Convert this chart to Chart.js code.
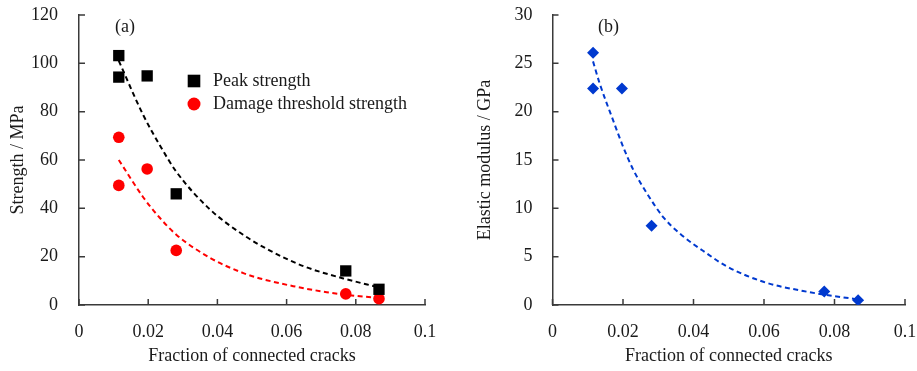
<!DOCTYPE html>
<html>
<head>
<meta charset="utf-8">
<script src="https://cdn.jsdelivr.net/npm/chart.js@4.4.1/dist/chart.umd.min.js"></script>
<style>
  body { margin: 0; background: #fff; }
  #wrap { position: relative; width: 917px; height: 371px; }
  canvas { position: absolute; top: 0; }
  #chartA { left: 0; }
  #chartB { left: 460px; }
</style>
</head>
<body>
<div id="wrap">
  <canvas id="chartA" width="460" height="371"></canvas>
  <canvas id="chartB" width="457" height="371"></canvas>
</div>
<script>
// measured points (same crack fractions for all three series)
const crackFraction = [0.0115, 0.0115, 0.0197, 0.0281, 0.0771, 0.0867];
const peakStrength = [103.2, 94.3, 94.8, 46.0, 14.1, 6.5];
const damageStrength = [69.4, 49.5, 56.3, 22.6, 4.6, 2.6];
const elasticModulus = [26.1, 22.4, 22.4, 8.2, 1.4, 0.5];

// dashed trend curves
const peakTrendX = [0.0115, 0.0186, 0.0234, 0.0282, 0.0379, 0.0475, 0.0552, 0.0650, 0.0764, 0.0867];
const peakTrendY = [101, 78.5, 66, 55, 39.5, 29, 22.5, 16, 11, 7.3];
const damageTrendX = [0.0115, 0.0186, 0.0234, 0.0282, 0.0379, 0.0475, 0.0523, 0.0619, 0.0716, 0.0812, 0.0867];
const damageTrendY = [60, 44.5, 36, 29, 19.5, 13.2, 11, 7.8, 5.3, 3.6, 3.0];
const modulusTrendX = [0.0115, 0.0134, 0.0172, 0.0200, 0.0229, 0.0267, 0.0314, 0.0361, 0.0437, 0.0494, 0.0598, 0.0711, 0.0853, 0.0867];
const modulusTrendY = [25.2, 22.9, 19.1, 16.4, 14.0, 11.6, 9.1, 7.4, 5.35, 4.0, 2.4, 1.45, 0.65, 0.6];

const xTickValues = [0, 0.02, 0.04, 0.06, 0.08, 0.1];
const xTickLabels = ['0', '0.02', '0.04', '0.06', '0.08', '0.1'];
const strengthTicks = [0, 20, 40, 60, 80, 100, 120];
const modulusTicks = [0, 5, 10, 15, 20, 25, 30];

const serif = "'Liberation Serif', 'Times New Roman', serif";
const axisColor = '#3a3a3a';
const textColor = '#1a1a1a';
const blue = '#0039cf';

function pts(xs, ys) {
  return xs.map((x, i) => ({ x: x, y: ys[i] }));
}

// short tick marks pointing into the plot, like the original
const innerTicks = {
  id: 'innerTicks',
  afterDraw(chart) {
    const ctx = chart.ctx;
    const xs = chart.scales.x, ys = chart.scales.y;
    const area = chart.chartArea;
    ctx.save();
    ctx.strokeStyle = axisColor;
    ctx.lineWidth = 1.5;
    ctx.beginPath();
    xs.ticks.forEach(t => {
      const px = xs.getPixelForValue(t.value);
      ctx.moveTo(px, area.bottom);
      ctx.lineTo(px, area.bottom - 6);
    });
    ys.ticks.forEach(t => {
      const py = ys.getPixelForValue(t.value);
      ctx.moveTo(area.left, py);
      ctx.lineTo(area.left + 6, py);
    });
    ctx.stroke();
    ctx.restore();
  }
};

// panel letter and in-plot legend
const decorations = {
  id: 'decorations',
  afterDraw(chart, args, opts) {
    const ctx = chart.ctx;
    ctx.save();
    ctx.font = '18px ' + serif;
    ctx.fillStyle = textColor;
    ctx.textBaseline = 'middle';
    ctx.textAlign = 'left';
    ctx.fillText(opts.panel, opts.panelX, opts.panelY);
    if (opts.legend) {
      let y = opts.legendY;
      chart.data.datasets.forEach(ds => {
        if (!ds.label) return;
        ctx.fillStyle = ds.backgroundColor;
        if (ds.pointStyle === 'rect') {
          ctx.fillRect(opts.legendX - 6.3, y - 6.3, 12.6, 12.6);
        } else {
          ctx.beginPath();
          ctx.arc(opts.legendX, y, 6.5, 0, Math.PI * 2);
          ctx.fill();
        }
        ctx.fillStyle = textColor;
        ctx.fillText(ds.label, opts.legendX + 19, y);
        y += opts.legendGap;
      });
    }
    ctx.restore();
  }
};

function makeScales(yTicks, yTitle, leftWidth, yPad, titlePad) {
  return {
    x: {
      type: 'linear', min: 0, max: 0.1,
      afterBuildTicks: s => { s.ticks = xTickValues.map(v => ({ value: v })); },
      afterFit: s => { s.height = 66; s.paddingLeft = 0; s.paddingRight = 0; },
      grid: { display: true, drawOnChartArea: false, drawTicks: false },
      border: { display: true, color: axisColor, width: 1.5 },
      ticks: {
        padding: 16, color: textColor, maxRotation: 0, autoSkip: false,
        font: { family: serif, size: 18 },
        callback: (v, i) => xTickLabels[i]
      },
      title: {
        display: true, text: 'Fraction of connected cracks', color: textColor,
        font: { family: serif, size: 18 }, padding: { top: 0, bottom: 4 }
      }
    },
    y: {
      type: 'linear', min: yTicks[0], max: yTicks[yTicks.length - 1],
      afterBuildTicks: s => { s.ticks = yTicks.map(v => ({ value: v })); },
      afterFit: s => { s.width = leftWidth; s.paddingTop = 0; s.paddingBottom = 0; },
      grid: { display: true, drawOnChartArea: false, drawTicks: false },
      border: { display: true, color: axisColor, width: 1.5 },
      ticks: { padding: yPad, color: textColor, font: { family: serif, size: 18 } },
      title: {
        display: true, text: yTitle, color: textColor,
        font: { family: serif, size: 18 }, padding: { top: titlePad, bottom: 0 }
      }
    }
  };
}

function trend(xs, ys, color) {
  return {
    label: '', data: pts(xs, ys), showLine: true, pointRadius: 0,
    borderColor: color, borderWidth: 2, borderDash: [5, 3.5],
    cubicInterpolationMode: 'monotone'
  };
}

new Chart(document.getElementById('chartA'), {
  type: 'scatter',
  data: {
    datasets: [
      {
        label: 'Peak strength', data: pts(crackFraction, peakStrength),
        pointStyle: 'rect', pointRadius: 8, backgroundColor: '#000', borderColor: '#000', borderWidth: 0
      },
      {
        label: 'Damage threshold strength', data: pts(crackFraction, damageStrength),
        pointStyle: 'circle', pointRadius: 5.8, backgroundColor: '#ff0000', borderColor: '#ff0000', borderWidth: 0
      },
      trend(peakTrendX, peakTrendY, '#000'),
      trend(damageTrendX, damageTrendY, '#ff0000')
    ]
  },
  options: {
    responsive: false,
    animation: false,
    layout: { padding: { left: 0, top: 15, right: 35, bottom: 0 } },
    scales: makeScales(strengthTicks, 'Strength / MPa', 79, 21, 7),
    plugins: {
      legend: { display: false },
      tooltip: { enabled: false },
      decorations: {
        panel: '(a)', panelX: 115, panelY: 27,
        legend: true, legendX: 194, legendY: 81, legendGap: 23
      }
    }
  },
  plugins: [innerTicks, decorations]
});

new Chart(document.getElementById('chartB'), {
  type: 'scatter',
  data: {
    datasets: [
      {
        label: 'Elastic modulus', data: pts(crackFraction, elasticModulus),
        pointStyle: 'rectRot', pointRadius: 6, backgroundColor: blue, borderColor: blue, borderWidth: 0
      },
      trend(modulusTrendX, modulusTrendY, blue)
    ]
  },
  options: {
    responsive: false,
    animation: false,
    layout: { padding: { left: 0, top: 15, right: 12, bottom: 0 } },
    scales: makeScales(modulusTicks, 'Elastic modulus / GPa', 92.5, 20, 14),
    plugins: {
      legend: { display: false },
      tooltip: { enabled: false },
      decorations: { panel: '(b)', panelX: 138, panelY: 27, legend: false }
    }
  },
  plugins: [innerTicks, decorations]
});
</script>
</body>
</html>
